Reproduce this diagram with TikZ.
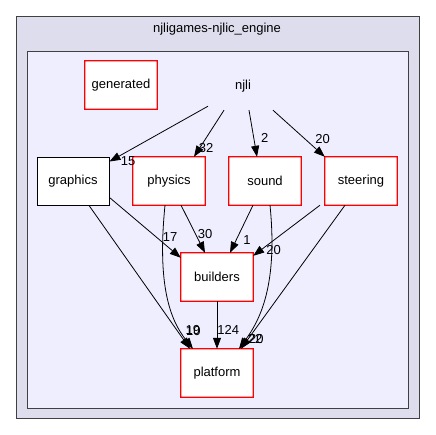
\documentclass[tikz,border=0pt]{standalone}
\usepackage{fontspec}
\setmainfont{Liberation Sans}
\usepackage{tikz}
\usetikzlibrary{positioning,arrows.meta}

\definecolor{outerfill}{HTML}{DDDDEE}
\definecolor{innerfill}{HTML}{EEEEFF}
\definecolor{clusterline}{HTML}{404040}
\definecolor{dirred}{HTML}{FF0000}

\tikzset{
  dirbox/.style={fill=white,minimum width=72pt,minimum height=48pt,inner sep=0pt},
  topbox/.style={draw=black,fill=white,line width=0.9pt,minimum width=72pt,minimum height=48pt,inner sep=0pt},
  dep/.style={-{Triangle[length=11pt,width=8pt]},line width=0.8pt},
  num/.style={inner sep=1pt}
}

\begin{document}
\begin{tikzpicture}[x=1pt,y=-1pt,font=\fontsize{13}{15}\selectfont]
\useasboundingbox (0,0) rectangle (435,435);
% clusters
\draw[draw=clusterline,fill=outerfill,line width=0.8pt] (16,16) rectangle (419,418);
\node (title) at (217,29) {njligames-njlic\_engine};
\draw[draw=clusterline,fill=innerfill,line width=0.8pt] (27,51) rectangle (408,408);
% directories
\node[dirbox] (generated) at (121,85) {generated};
\node[minimum width=70pt,minimum height=48pt,inner sep=0pt] (njli) at (243,86) {njli};
\node[topbox] (graphics) at (73,181) {graphics};
\node[dirbox] (physics) at (169,181) {physics};
\node[dirbox] (sound) at (265,181) {sound};
\node[dirbox] (steering) at (361,181) {steering};
\node[dirbox] (builders) at (217,277) {builders};
\node[dirbox] (platform) at (217,373) {platform};
% red frames
\foreach \d in {generated,physics,sound,steering,builders,platform}
  \fill[dirred,even odd rule]
    ([xshift=-0.6pt,yshift=-0.6pt]\d.south west) rectangle ([xshift=0.6pt,yshift=0.6pt]\d.north east)
    ([xshift=0.6pt,yshift=0.6pt]\d.south west) rectangle ([xshift=-0.6pt,yshift=-0.6pt]\d.north east);
% from njli
\draw[dep] ([xshift=-35pt,yshift=4pt]njli.south) -- ([yshift=-5pt]graphics.north east)
  node[num,pos=1,anchor=west,xshift=10pt,yshift=0pt] {15};
\draw[dep] ([xshift=-19pt]njli.south) -- ([xshift=25pt]physics.north)
  node[num,pos=0.82,anchor=west,xshift=-2pt] {32};
\draw[dep] ([xshift=6pt]njli.south) -- ([xshift=-8pt]sound.north)
  node[num,pos=0.6,anchor=west,xshift=6pt] {2};
\draw[dep] ([xshift=30pt]njli.south) -- (steering.north west)
  node[num,pos=0.6,anchor=south west,xshift=10pt,yshift=-7pt] {20};
% into builders
\draw[dep] ([yshift=8pt]graphics.south east) -- ([yshift=-5pt]builders.north west)
  node[num,pos=0.78,anchor=south,xshift=5pt,yshift=2pt] {17};
\draw[dep] ([xshift=12pt]physics.south) -- ([xshift=-12pt]builders.north)
  node[num,pos=0.6,anchor=west,xshift=1pt] {30};
\draw[dep] ([xshift=-12pt]sound.south) -- ([xshift=13pt]builders.north)
  node[num,pos=0.7,anchor=west,xshift=5pt,yshift=-2pt] {1};
\draw[dep] ([xshift=-41pt]steering.south) -- ([yshift=-3pt]builders.north east)
  node[num,pos=0.72,anchor=north west,xshift=-7pt,yshift=-2pt] {20};
% into platform
\draw[dep] ([xshift=16pt]graphics.south) -- ([xshift=-27pt]platform.north)
  node[num,pos=0.9,xshift=13pt,yshift=4pt] {19};
\draw[dep] ([xshift=-4pt]physics.south) .. controls (157,285) and (170,320) .. ([xshift=-24pt]platform.north)
  node[num,pos=0.9,xshift=7pt,yshift=9pt] {10};
\draw[dep] ([xshift=5pt]sound.south) .. controls (278,285) and (260,320) .. ([xshift=22pt]platform.north)
  node[num,pos=0.9,xshift=10pt,yshift=1pt] {22};
\draw[dep] ([xshift=-16pt]steering.south) -- ([xshift=24pt]platform.north)
  node[num,pos=0.93,xshift=8pt,yshift=0pt] {20};
\draw[dep] (builders.south) -- (platform.north)
  node[num,pos=0.6,anchor=west,xshift=-1pt] {124};
\end{tikzpicture}
\end{document}
